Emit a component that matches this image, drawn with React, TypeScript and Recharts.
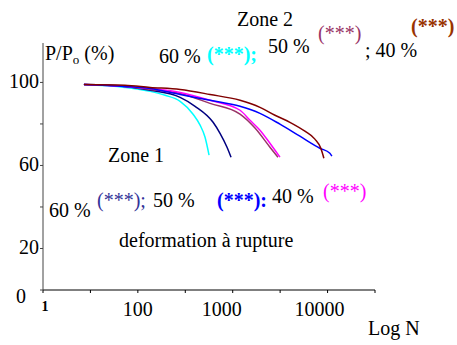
import React from "react";
import { Line, LineChart, XAxis, YAxis } from "recharts";

// fatigue curves, P/Po (%) vs number of cycles N
const zone2At60 = [
  { n: 27, p: 99 }, { n: 73, p: 97.6 }, { n: 135, p: 95.7 }, { n: 194, p: 93.8 },
  { n: 279, p: 90.9 }, { n: 382, p: 84.7 }, { n: 453, p: 79.4 }, { n: 511, p: 73.6 },
  { n: 563, p: 65 },
];
const zone1At60 = [
  { n: 27, p: 99 }, { n: 73, p: 98.1 }, { n: 135, p: 96.2 }, { n: 279, p: 92.8 },
  { n: 401, p: 88.5 }, { n: 621, p: 80.8 }, { n: 735, p: 75.5 }, { n: 871, p: 68.8 },
  { n: 960, p: 64 },
];
const zone2At50 = [
  { n: 27, p: 99 }, { n: 73, p: 98.1 }, { n: 135, p: 96.6 }, { n: 279, p: 94.7 },
  { n: 577, p: 89.9 }, { n: 1194, p: 84.7 }, { n: 1717, p: 78 }, { n: 2469, p: 68.8 },
  { n: 3000, p: 64 },
];
const zone1At40 = [
  { n: 27, p: 99 }, { n: 73, p: 98.1 }, { n: 135, p: 97.1 }, { n: 279, p: 95.2 },
  { n: 577, p: 91.4 }, { n: 1194, p: 86.6 }, { n: 1521, p: 81.8 }, { n: 1938, p: 77 },
  { n: 2469, p: 70.7 }, { n: 3147, p: 64 },
];
const zone1At50 = [
  { n: 27, p: 99 }, { n: 73, p: 98.1 }, { n: 135, p: 97.1 }, { n: 279, p: 94.2 },
  { n: 577, p: 91.4 }, { n: 1194, p: 88.5 }, { n: 1938, p: 85.1 }, { n: 3147, p: 79.9 },
  { n: 5109, p: 74.1 }, { n: 8300, p: 68.3 }, { n: 10575, p: 65.9 }, { n: 11100, p: 64.5 },
];
const zone2At40 = [
  { n: 27, p: 99 }, { n: 73, p: 98.6 }, { n: 135, p: 97.6 }, { n: 279, p: 96.6 },
  { n: 577, p: 94.2 }, { n: 1194, p: 91.4 }, { n: 1938, p: 88 }, { n: 2788, p: 84.2 },
  { n: 4010, p: 80.8 }, { n: 5768, p: 76.5 }, { n: 7350, p: 72.7 }, { n: 8495, p: 68.3 },
  { n: 9140, p: 63.5 },
];

const xTicks = [10, 31.62, 100, 316.2, 1000, 3162, 10000, 31623];
const xTickLabels = ["1", "", "100", "", "1000", "", "10000", ""];
const yTicks = [0, 20, 40, 60, 80, 100];
const yTickLabels = ["0", "20", "", "60", "", "100"];

const FONT = "'Liberation Serif', 'Times New Roman', serif";

function XTick({ x, y, payload, index }: any) {
  const label = xTickLabels[index] ?? "";
  if (!label) return null;
  // the original labels sit a little left of their ticks
  const shift: Record<string, number> = { "1": 2, "100": 0, "1000": -11, "10000": -8 };
  const small = label === "1";
  return (
    <text
      x={x + (shift[label] ?? 0)}
      y={y + (small ? 16 : 21)}
      textAnchor="middle"
      fontFamily={FONT}
      fontSize={small ? 14 : 20}
      fontWeight={small ? "bold" : "normal"}
      fill="#000"
    >
      {label}
    </text>
  );
}

function YTick({ x, y, index }: any) {
  const label = yTickLabels[index] ?? "";
  if (!label) return null;
  const isZero = label === "0";
  return (
    <text
      x={isZero ? x - 12 : x + 1}
      y={y + (isZero ? 13 : 6)}
      textAnchor="end"
      fontFamily={FONT}
      fontSize={20}
      fill="#000"
    >
      {label}
    </text>
  );
}

function Notes() {
  const t = { fontFamily: FONT, fontSize: 20, fill: "#000" } as const;
  return (
    <svg width={457} height={345} style={{ position: "absolute", left: 0, top: 0, pointerEvents: "none" }}>
      <text x={237} y={26} {...t}>Zone 2</text>
      <text x={45} y={60} {...t}>
        P/P<tspan fontSize={13} dy={4}>o</tspan><tspan dy={-4}> (%)</tspan>
      </text>
      <text x={159} y={63} {...t}>60 %</text>
      <text x={207} y={61} {...t} fill="#00FFFF" fontWeight="bold">(***);</text>
      <text x={268} y={53} {...t}>50 %</text>
      <text x={318} y={40} {...t} fill="#993366">(***)</text>
      <text x={365} y={57} {...t}>; 40 %</text>
      <text x={411} y={33} {...t} fill="#993300" fontWeight="bold">(***)</text>

      <text x={108} y={162} {...t}>Zone 1</text>
      <text x={49} y={217} {...t}>60 %</text>
      <text x={97} y={207} {...t} fill="#333399">(***);</text>
      <text x={153} y={207} {...t}>50 %</text>
      <text x={217} y={207} {...t} fill="#0000FF" fontWeight="bold">(***):</text>
      <text x={272} y={203} {...t}>40 %</text>
      <text x={323} y={198} {...t} fill="#FF00FF">(***)</text>

      <text x={119} y={247} {...t}>deformation à rupture</text>
      <text x={368} y={335} {...t}>Log N</text>
    </svg>
  );
}

export default function App() {
  const series = [
    { data: zone2At60, color: "#00FFFF" },
    { data: zone1At60, color: "#000080" },
    { data: zone2At50, color: "#993366" },
    { data: zone1At40, color: "#FF00FF" },
    { data: zone1At50, color: "#0000FF" },
    { data: zone2At40, color: "#800000" },
  ];
  return (
    <div style={{ position: "absolute", left: 0, top: 0, width: 457, height: 345, background: "#fff" }}>
      <LineChart width={457} height={345} margin={{ top: 43, right: 82, bottom: 24, left: 3 }}>
        <XAxis
          type="number"
          dataKey="n"
          scale="log"
          domain={[10, 31623]}
          ticks={xTicks}
          allowDataOverflow
          height={31}
          stroke="#000"
          tickSize={3}
          tick={<XTick />}
          interval={0}
        />
        <YAxis
          type="number"
          domain={[0, 119]}
          ticks={yTicks}
          width={40}
          stroke="#444"
          tickSize={3}
          tick={<YTick />}
          interval={0}
        />
        {series.map((s, i) => (
          <Line
            key={i}
            data={s.data}
            dataKey="p"
            type="monotone"
            stroke={s.color}
            strokeWidth={1.5}
            dot={false}
            isAnimationActive={false}
          />
        ))}
      </LineChart>
      <Notes />
    </div>
  );
}
